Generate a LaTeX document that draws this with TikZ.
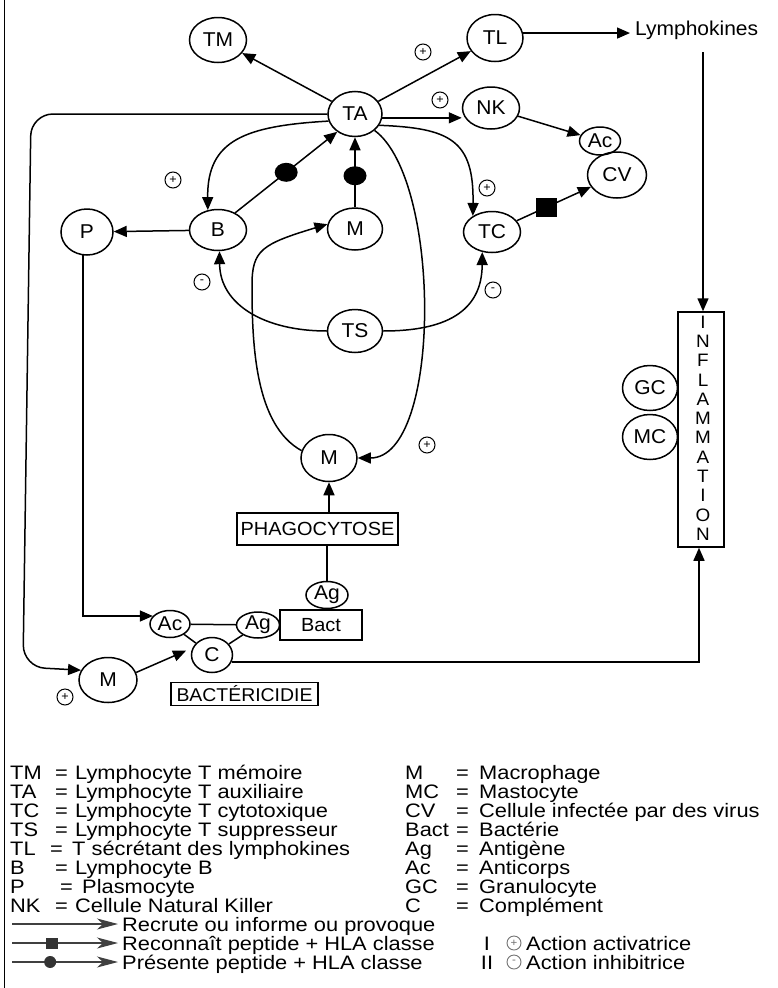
\documentclass[tikz,border=0pt]{standalone}
\usepackage{fontspec}
\setmainfont[FakeStretch=1.05]{Liberation Sans}
\newfontfamily\legfont[FakeStretch=1.12]{Liberation Sans}
\usetikzlibrary{shapes.geometric,arrows.meta,calc}
\begin{document}
\begin{tikzpicture}[x=1pt,y=-1pt,
  every node/.style={inner sep=0pt},
  cell/.style={ellipse,draw,line width=1.5pt,inner sep=0pt,font=\fontsize{20}{20}\selectfont},
  ln/.style={line width=1.5pt},
  arr/.style={ln,-{Triangle[length=13pt,width=11pt]}},
  sign/.style={circle,draw,line width=1pt,minimum size=16pt,inner sep=0pt,font=\fontsize{12}{12}\selectfont},
  box/.style={draw,line width=1.5pt,font=\fontsize{19}{19}\selectfont},
  leg/.style={anchor=base west,font=\legfont\fontsize{19.5}{19.5}\selectfont},
  dotm/.style={ellipse,fill,minimum width=23pt,minimum height=19pt},
  sqm/.style={fill,minimum width=21pt,minimum height=19pt},
  legarr/.style={line width=1.2pt,black!75,-{Stealth[length=21pt,width=11pt,inset=6pt]}},
  lsign/.style={circle,draw=black!55,text=black!55,line width=0.9pt,minimum size=14pt,inner sep=0pt,font=\fontsize{11}{11}\selectfont},
]
\fill[white] (0,0) rectangle (777,988);
\useasboundingbox (0,0) rectangle (777,988);
\draw[line width=1.6pt] (4.5,0) -- (4.5,988);

% cells
\node[cell,minimum width=57pt,minimum height=45pt] (TM) at (218,40) {TM};
\node[cell,minimum width=54pt,minimum height=45pt] (TA) at (355,114) {TA};
\node[cell,minimum width=56pt,minimum height=47pt] (TL) at (495,38) {TL};
\node[cell,minimum width=57pt,minimum height=42pt] (NK) at (491,108) {NK};
\node[cell,minimum width=41pt,minimum height=28pt] (AcA) at (600,141) {Ac};
\node[cell,minimum width=59pt,minimum height=46pt] (CV) at (617,175) {CV};
\node[cell,minimum width=57pt,minimum height=41pt] (TC) at (492,232) {TC};
\node[cell,minimum width=57pt,minimum height=41pt] (B) at (218,230) {B};
\node[cell,minimum width=52pt,minimum height=46pt] (P) at (87,232) {P};
\node[cell,minimum width=55pt,minimum height=42pt] (M1) at (355,229) {M};
\node[cell,minimum width=55pt,minimum height=43pt] (TS) at (355,331) {TS};
\node[cell,minimum width=56pt,minimum height=47pt] (M2) at (329,458) {M};
\node[box,minimum width=161pt,minimum height=32pt] (phago) at (317.5,529) {PHAGOCYTOSE};
\node[cell,minimum width=42pt,minimum height=27pt] (AgA) at (327,595) {Ag};
\node[box,minimum width=82pt,minimum height=30pt] (bact) at (321,625) {Bact};
\node[cell,fill=white,minimum width=43pt,minimum height=26pt] (AgB) at (258,625) {Ag};
\node[cell,minimum width=40pt,minimum height=27pt] (AcB) at (170,624) {Ac};
\node[cell,minimum width=41pt,minimum height=35pt] (C) at (212,655) {C};
\node[cell,minimum width=58pt,minimum height=45pt] (M3) at (108,680) {M};
\node[box,minimum width=147pt,minimum height=23pt,font=\fontsize{18.5}{18.5}\selectfont] (bcid) at (244.5,694) {BACTÉRICIDIE};
\node[draw,line width=1.5pt,minimum width=46pt,minimum height=235pt] (infl) at (701,429.5) {};
\foreach \l [count=\i from 0] in {I,N,F,L,A,M,M,A,T,I,O,N}
  \node[font=\fontsize{18}{18}\selectfont] (L\i) at (703,322+19.3*\i) {\l};
\node[cell,minimum width=55pt,minimum height=45pt] (GC) at (650,388) {GC};
\node[cell,minimum width=55pt,minimum height=45pt] (MC) at (650,437) {MC};
\node[font=\fontsize{20}{20}\selectfont,anchor=base west] (lympho) at (635,35) {Lymphokines};

% connectors
\draw[arr] (TA) -- (TM);
\draw[arr] (TA) -- (TL);
\draw[arr,shorten >=5pt] (TL.10) -- (TL.10 -| lympho.west);
\draw[arr] ($(lympho.south -| infl.north)+(2,13)$) -- ($(infl.north)+(2,0)$);
\draw[arr] (TA.-8) -- (TA.-8 -| NK.west);
\draw[arr] (NK) -- (AcA);
\draw[arr] (TC) -- node[pos=0.4,sqm]{} (CV);
\draw[arr] (TA.-25) .. controls (450,128) and (474,140) .. (TC.140);
\draw[arr] (TA.195) .. controls (245,126) and (207,140) .. (B.117);
\draw[arr] (B.45) -- node[pos=0.5,dotm]{} (TA.225);
\draw[arr] (M1) -- node[pos=0.45,dotm]{} (TA);
\draw[arr] (B) -- (P);
\draw[arr] (TS.west) .. controls (265,331) and (220,305) .. (B.-86);
\draw[arr] (TS.east) .. controls (445,331) and (482,312) .. (TC.-116);
\draw[arr] (TA.-40) .. controls (442,180) and (442,458) .. (M2.east);
\draw[arr] (M2.165) .. controls (255,425) and (252,345) .. (252,285) .. controls (252,250) and (262,244) .. (M1.170);
\draw[arr] (phago.north -| M2.south) -- (M2.south);
\draw[ln] (AgA.north) -- (AgA.north |- phago.south);
\draw[arr] (P.-100) |- (AcB.155);
\draw[arr,rounded corners=22pt] (TA.west) -- (31,114) -- (23,667) -- (M3.160);
\draw[arr,shorten >=7pt] (M3.15) -- (C.160);
\draw[ln] (AcB) -- (AgB);
\draw[ln] (AcB) -- (C);
\draw[ln] (C) -- (AgB);
\draw[arr] (C.-20) -| ($(infl.south)+(-2,0)$);

% signs
\node[sign] (s1) at (173,180) {+};
\node[sign] (s2) at (423,52) {+};
\node[sign] (s3) at (440,100) {+};
\node[sign] (s4) at (487,188) {+};
\node[sign] (s5) at (202,282) {-};
\node[sign] (s6) at (493,290) {-};
\node[sign] (s7) at (427,445) {+};
\node[sign] (s8) at (65,697) {+};

% legend
\foreach \a/\d/\b/\e/\ex/\dx [count=\i from 0] in {
  TM/Lymphocyte T mémoire/M/Macrophage/55/75,
  TA/Lymphocyte T auxiliaire/MC/Mastocyte/55/75,
  TC/Lymphocyte T cytotoxique/CV/Cellule infectée par des virus/55/75,
  TS/Lymphocyte T suppresseur/Bact/Bactérie/55/75,
  TL/T sécrétant des lymphokines/Ag/Antigène/50/72,
  B/Lymphocyte B/Ac/Anticorps/55/75,
  P/Plasmocyte/GC/Granulocyte/60/82,
  NK/Cellule Natural Killer/C/Complément/55/75}{
  \pgfmathsetmacro\yy{779+19*\i}
  \node[leg] (ka\i) at (10,\yy) {\a};
  \node[leg] (ea\i) at (\ex,\yy) {=};
  \node[leg] (da\i) at (\dx,\yy) {\d};
  \node[leg] (kb\i) at (405,\yy) {\b};
  \node[leg] (eb\i) at (456,\yy) {=};
  \node[leg] (db\i) at (479,\yy) {\e};
}
\coordinate (r8s) at (12,924); \coordinate (r8e) at (118,924);
\coordinate (r9s) at (12,943); \coordinate (r9e) at (118,943);
\coordinate (r10s) at (12,962); \coordinate (r10e) at (118,962);
\draw[legarr] (r8s) -- (r8e);
\draw[legarr] (r9s) -- node[pos=0.38,fill=black!80,minimum width=12pt,minimum height=11pt]{} (r9e);
\draw[legarr] (r10s) -- node[pos=0.36,circle,fill=black!80,minimum size=12pt]{} (r10e);
\node[leg] (t8) at (122,931) {Recrute ou informe ou provoque};
\node[leg] (t9) at (122,950) {Reconnaît peptide + HLA classe};
\node[leg] (t10) at (122,969) {Présente peptide + HLA classe};
\node[font=\legfont\fontsize{19.5}{19.5}\selectfont,anchor=base] (c9) at (487,950) {I};
\node[font=\legfont\fontsize{19.5}{19.5}\selectfont,anchor=base] (c10) at (487,969) {II};
\node[lsign] (g9) at (514,943) {+};
\node[lsign] (g10) at (514,962) {-};
\node[leg] (a9) at (526,950) {Action activatrice};
\node[leg] (a10) at (526,969) {Action inhibitrice};
\end{tikzpicture}
\end{document}
